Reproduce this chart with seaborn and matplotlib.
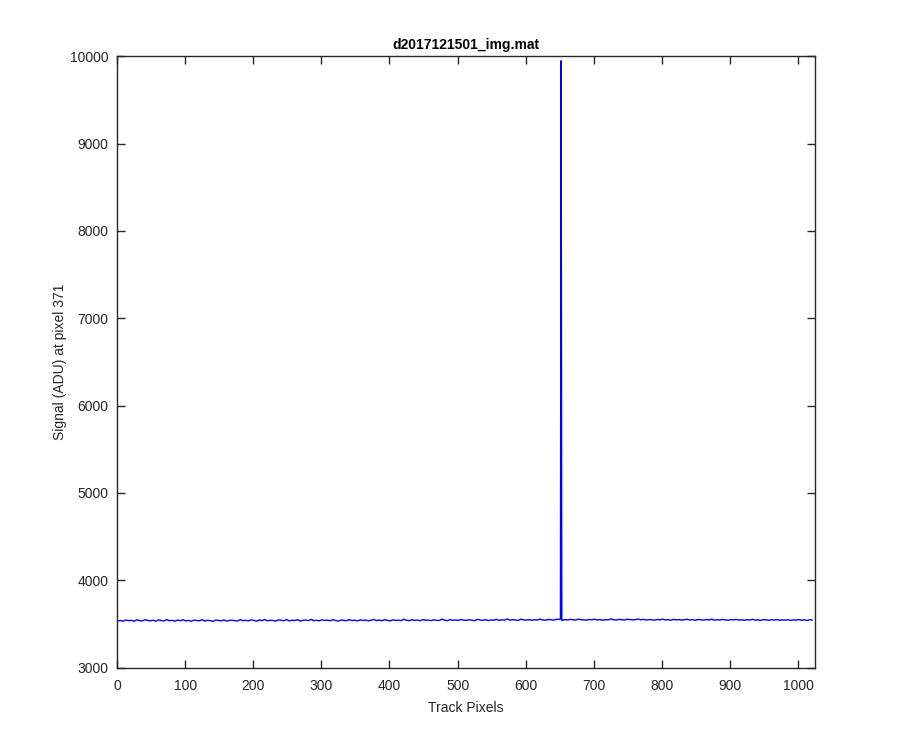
import numpy as np
import pandas as pd
import matplotlib
matplotlib.use("Agg")
import matplotlib.pyplot as plt
import seaborn as sns

# baseline signal, one value every 4 track pixels (1, 5, ..., 1021)
baseline_step = 4
baseline_vals = [
    3532, 3538, 3531, 3544, 3536, 3541, 3530, 3546, 3537, 3533, 3548, 3539, 3535, 3542, 3529, 3545,
    3538, 3534, 3549, 3536, 3540, 3531, 3543, 3537, 3546, 3533, 3539, 3530, 3544, 3538, 3535, 3547,
    3532, 3541, 3536, 3529, 3543, 3538, 3534, 3545, 3531, 3539, 3542, 3536, 3533, 3548, 3537, 3540,
    3534, 3546, 3539, 3531, 3544, 3537, 3550, 3535, 3541, 3538, 3532, 3545, 3540, 3536, 3549, 3534,
    3542, 3538, 3547, 3533, 3540, 3544, 3537, 3551, 3536, 3541, 3534, 3546, 3539, 3543, 3535, 3548,
    3538, 3531, 3544, 3540, 3536, 3549, 3537, 3542, 3533, 3546, 3539, 3544, 3535, 3541, 3550, 3537,
    3543, 3536, 3548, 3540, 3534, 3545, 3539, 3542, 3537, 3552, 3541, 3536, 3547, 3539, 3544, 3535,
    3549, 3540, 3543, 3537, 3546, 3541, 3538, 3553, 3542, 3536, 3548, 3540, 3545, 3538, 3550, 3543,
    3539, 3547, 3541, 3536, 3552, 3544, 3540, 3548, 3537, 3545, 3542, 3551, 3539, 3546, 3543, 3556,
    3541, 3548, 3544, 3539, 3553, 3546, 3542, 3549, 3540, 3547, 3543, 3555, 3545, 3541, 3550, 3547,
    3542, 3552, 3545, 3540, 3549, 3544, 3551, 3547, 3543, 3554, 3548, 3545, 3542, 3550, 3546, 3553,
    3544, 3549, 3541, 3548, 3545, 3557, 3546, 3543, 3551, 3547, 3544, 3553, 3549, 3545, 3548, 3555,
    3546, 3551, 3543, 3549, 3547, 3542, 3550, 3546, 3553, 3544, 3548, 3541, 3551, 3545, 3549, 3543,
    3547, 3552, 3544, 3548, 3541, 3550, 3546, 3543, 3549, 3545, 3553, 3542, 3547, 3544, 3550, 3546,
    3541, 3549, 3545, 3551, 3543, 3547, 3540, 3548, 3544, 3552, 3542, 3546, 3539, 3549, 3545, 3541,
    3547, 3543, 3550, 3540, 3546, 3542, 3548, 3539, 3545, 3543, 3549, 3541, 3546, 3538, 3547, 3543,
]
# narrow spike near track pixel 652
spike_px = [650, 651, 652, 653, 654]
spike_vals = [3551, 3556, 9948, 3560, 3538]

baseline_px = np.arange(len(baseline_vals)) * baseline_step + 1
df = pd.DataFrame({
    "Track Pixels": np.concatenate([baseline_px, spike_px]),
    "Signal": np.concatenate([baseline_vals, spike_vals]),
})
df = df[~df["Track Pixels"].between(649, 655) | df["Track Pixels"].isin(spike_px)]
df = df.sort_values("Track Pixels").reset_index(drop=True)

sns.set_style("white")
plt.rcParams["font.family"] = ["Liberation Sans", "DejaVu Sans"]

fig = plt.figure(figsize=(9, 7.5), dpi=100)
ax = fig.add_axes([0.13, 0.11, 0.775, 0.815])

sns.lineplot(data=df, x="Track Pixels", y="Signal", color="#0000ff",
             linewidth=1.0, ax=ax, estimator=None, sort=False)

ax.set_xlim(0, 1024)
ax.set_ylim(3000, 10000)
ax.set_xticks(np.arange(0, 1001, 100))
ax.set_yticks(np.arange(3000, 10001, 1000))
ax.set_xlabel("Track Pixels", fontsize=10, color="#262626", labelpad=6)
ax.set_ylabel("Signal (ADU) at pixel 371", fontsize=10, color="#262626", labelpad=2)
ax.set_title("d2017121501_img.mat", fontsize=10, fontweight="bold", color="black", pad=5)

for side in ["top", "right", "bottom", "left"]:
    ax.spines[side].set_visible(True)
    ax.spines[side].set_color("#262626")
    ax.spines[side].set_linewidth(1.0)
ax.tick_params(direction="in", length=6, width=1.0, colors="#262626",
               labelsize=10, top=True, right=True, bottom=True, left=True,
               labelcolor="#262626")
ax.tick_params(axis="x", pad=8)
ax.tick_params(axis="y", pad=6)

fig.savefig("out.png", dpi=100)
